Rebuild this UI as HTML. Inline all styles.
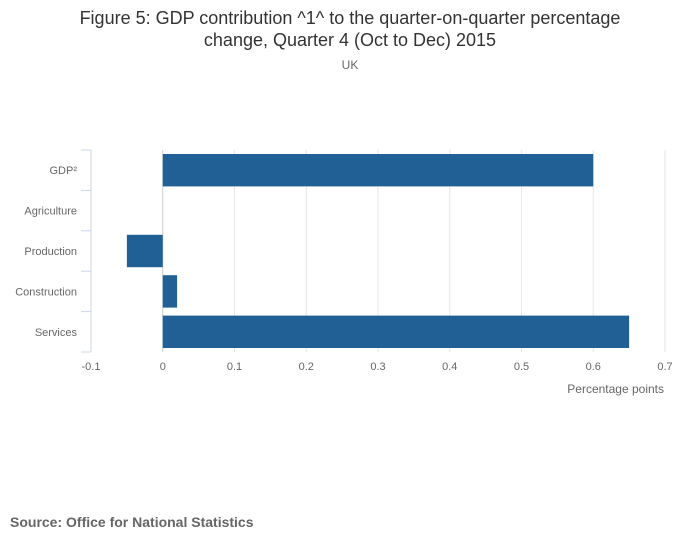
<!DOCTYPE html>
<html><head><meta charset="utf-8"><style>
body{margin:0;background:#fff;font-family:"Liberation Sans","DejaVu Sans",sans-serif;}
</style></head><body>
<svg width="700" height="549" xmlns="http://www.w3.org/2000/svg">
<text x="350" y="24" text-anchor="middle" font-size="18" fill="#333">Figure 5: GDP contribution ^1^ to the quarter-on-quarter percentage</text>
<text x="350" y="46" text-anchor="middle" font-size="18" fill="#333">change, Quarter 4 (Oct to Dec) 2015</text>
<text x="350" y="69" text-anchor="middle" font-size="12" fill="#666">UK</text>
<g id="grid"></g><g id="bars"></g><g id="axes"></g>
<text x="664" y="393" text-anchor="end" font-size="12" fill="#666">Percentage points</text>
<text x="10" y="527" font-size="14" font-weight="bold" fill="#666">Source: Office for National Statistics</text>
</svg>
<script>
const categories=["GDP²","Agriculture","Production","Construction","Services"];
const values=[0.6,0,-0.05,0.02,0.65];
const ticks=[-0.1,0,0.1,0.2,0.3,0.4,0.5,0.6,0.7];
const tickLabels=["-0.1","0","0.1","0.2","0.3","0.4","0.5","0.6","0.7"];
const NS="http://www.w3.org/2000/svg";
const x0=91,x1=665,y0=150,y1=352,xmin=-0.1,xmax=0.7;
const xs=v=>x0+(v-xmin)/(xmax-xmin)*(x1-x0);
const band=(y1-y0)/categories.length;
const ys=i=>y0+i*band;
function mk(t,a,p){const e=document.createElementNS(NS,t);for(const k in a)e.setAttribute(k,a[k]);p.appendChild(e);return e;}
const grid=document.getElementById('grid'),bars=document.getElementById('bars'),axes=document.getElementById('axes');
ticks.forEach((t,i)=>{
 const l=mk('line',{x1:xs(t),x2:xs(t),y1:y0,y2:y1,stroke:t===0?'#ccc':'#e6e6e6'},grid);
 
 
 const tx=mk('text',{x:xs(t),y:370,'text-anchor':'middle','font-size':11,fill:'#666'},axes);
 tx.textContent=tickLabels[i];
 
 
});
const ax=mk('line',{x1:x0,x2:x0,y1:y0,y2:y1,stroke:'#ccd6eb'},axes);


for(let i=0;i<=categories.length;i++){
 const tk=mk('line',{x1:x0-10,x2:x0,y1:ys(i),y2:ys(i),stroke:'#ccd6eb'},axes);
 
 
}
categories.forEach((c,i)=>{
 const tx=mk('text',{x:77,y:ys(i)+band/2+4,'text-anchor':'end','font-size':11,fill:'#666'},axes);
 tx.textContent=c;
 
 
 const v=values[i];
 const a=xs(Math.min(0,v)),b=xs(Math.max(0,v));
 const r=mk('rect',{x:a,y:ys(i)+4,width:b-a,height:band-8,fill:'#206095'},bars);
 
 
});
</script>
</body></html>
